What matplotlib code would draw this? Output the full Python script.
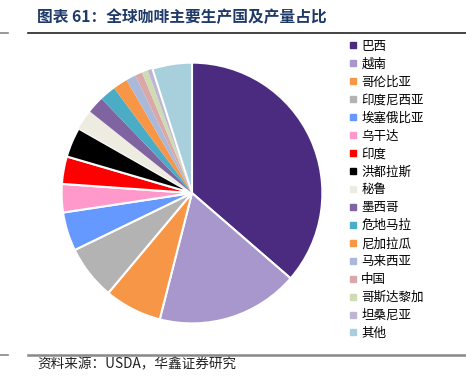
import matplotlib.pyplot as plt
from matplotlib.lines import Line2D

plt.rcParams['font.family'] = ['Noto Sans CJK SC', 'DejaVu Sans']

countries = ['巴西', '越南', '哥伦比亚', '印度尼西亚', '埃塞俄比亚', '乌干达', '印度',
             '洪都拉斯', '秘鲁', '墨西哥', '危地马拉', '尼加拉瓜', '马来西亚', '中国',
             '哥斯达黎加', '坦桑尼亚', '其他']
# share of world production, %
shares = [36.3, 17.6, 7.1, 6.7, 4.8, 3.5, 3.4, 3.7, 2.5, 2.1, 2.0, 1.8, 1.2, 0.9,
          0.75, 0.6, 4.9]
colors = ['#4B2B80', '#A797CC', '#F79646', '#B3B3B3', '#6699FF', '#FF99CC', '#FF0000',
          '#000000', '#EEECE1', '#8064A2', '#4BACC6', '#F79646', '#AAB9D9', '#DAA8A8',
          '#CDDCB2', '#BEB4D4', '#A8CFDC']

fig = plt.figure(figsize=(4.66, 3.86), dpi=100)

ax = fig.add_axes([0.1266, 0.1554, 0.5708, 0.6891])
wedges, _ = ax.pie(shares, colors=colors, startangle=90, counterclock=False, radius=1)
for i, w in enumerate(wedges):
    if i < 8 or i == len(wedges) - 1:
        w.set_edgecolor('white')
        w.set_linewidth(1.5)
ax.set_xlim(-1.02, 1.02)
ax.set_ylim(-1.02, 1.02)
ax.set_aspect('equal')
ax.axis('off')

handles = [Line2D([], [], marker='s', linestyle='none', markersize=4,
                  markerfacecolor=c, markeredgecolor=c) for c in colors]
fig.legend(handles, countries, loc='upper left', bbox_to_anchor=(0.735, 0.913),
           frameon=False, fontsize=9, handlelength=0.6, handletextpad=0.4,
           labelspacing=0.395, borderpad=0)

# title and rules
fig.text(0.079, 0.955, '图表 61：全球咖啡主要生产国及产量占比', fontsize=11.3,
         fontweight='bold', color='#1F3A68', va='center')
fig.add_artist(Line2D([0.06, 1.0], [0.915, 0.915], color='#222222', lw=1.2))
fig.add_artist(Line2D([0.0, 0.018], [0.915, 0.915], color='#888888', lw=1.2))
fig.add_artist(Line2D([0.06, 1.0], [0.081, 0.081], color='#888888', lw=1.8))
fig.add_artist(Line2D([0.0, 0.018], [0.081, 0.081], color='#888888', lw=1.2))
fig.text(0.079, 0.055, '资料来源：USDA，华鑫证券研究', fontsize=9.8, color='#222222',
         va='center')

fig.savefig('out.png', dpi=100)
